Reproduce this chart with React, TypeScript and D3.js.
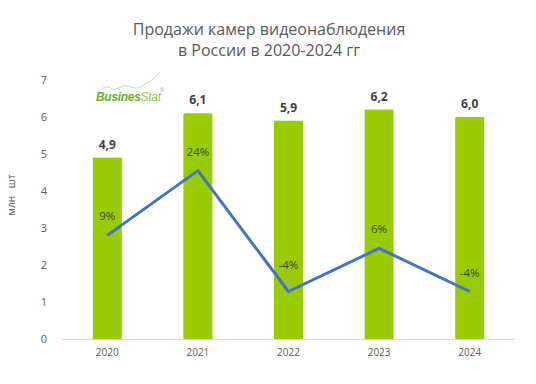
import React, { useEffect, useRef } from "react";
import * as d3 from "d3";

const years = ["2020", "2021", "2022", "2023", "2024"];
const sales = [4.9, 6.1, 5.9, 6.2, 6.0];
const growth = [0.09, 0.24, -0.04, 0.06, -0.04];
const yTicks = [0, 1, 2, 3, 4, 5, 6, 7];

const W = 536;
const H = 384;
const font = "'Open Sans', 'Noto Sans', sans-serif";

export default function App() {
  const svgRef = useRef<SVGSVGElement>(null);

  useEffect(() => {
    const svg = d3.select(svgRef.current);
    svg.selectAll("*").remove();

    const left = 62, right = 515, top = 80, bottom = 339;

    const x = d3.scaleBand().domain(years).range([left, right]).paddingInner(0.68).paddingOuter(0.34);
    const y = d3.scaleLinear().domain([0, 7]).range([bottom, top]);
    const y2 = d3.scaleLinear().domain([-0.15, 0.45]).range([bottom, top]);
    const cx = (d: string) => (x(d) as number) + x.bandwidth() / 2;

    // title
    const title = svg.append("text")
      .attr("x", 269).attr("text-anchor", "middle")
      .attr("font-family", font).attr("font-size", 16).attr("fill", "#595959");
    title.append("tspan").attr("x", 269).attr("y", 35).text("Продажи камер видеонаблюдения");
    title.append("tspan").attr("x", 269).attr("y", 56).text("в России в 2020-2024 гг");

    // y axis (no line, just labels)
    const yAxis = svg.append("g")
      .attr("transform", `translate(${left - 14},0)`)
      .call(d3.axisLeft(y).tickValues(yTicks).tickSize(0).tickPadding(0).tickFormat(d3.format("d")));
    yAxis.select(".domain").remove();
    yAxis.selectAll("text")
      .attr("font-family", font).attr("font-size", 11).attr("fill", "#595959")
      .attr("text-anchor", "middle").attr("dx", -4);

    svg.append("text")
      .attr("transform", `translate(15,${195}) rotate(-90)`)
      .attr("text-anchor", "middle")
      .attr("font-family", font).attr("font-size", 10).attr("fill", "#595959")
      .attr("xml:space", "preserve")
      .text("млн   шт");

    // bars
    svg.selectAll(".bar").data(sales).join("rect")
      .attr("class", "bar")
      .attr("x", (d, i) => x(years[i]) as number)
      .attr("width", x.bandwidth())
      .attr("y", d => y(d))
      .attr("height", d => bottom - y(d))
      .attr("fill", "#99CC00");

    svg.selectAll(".barlabel").data(sales).join("text")
      .attr("class", "barlabel")
      .attr("x", (d, i) => cx(years[i]))
      .attr("y", d => y(d) - 9)
      .attr("text-anchor", "middle")
      .attr("font-family", font).attr("font-size", 12).attr("font-weight", "bold")
      .attr("fill", "#404040")
      .text(d => d3.format(".1f")(d).replace(".", ","));

    // x axis
    const xAxis = svg.append("g")
      .attr("transform", `translate(0,${bottom})`)
      .call(d3.axisBottom(x).tickSize(0).tickPadding(10));
    xAxis.select(".domain").attr("stroke", "#D9D9D9").attr("d", `M${left},0.5H${right}`);
    xAxis.selectAll("text")
      .attr("font-family", font).attr("font-size", 10).attr("fill", "#595959");

    // growth line
    const ln = d3.line<number>()
      .x((d, i) => cx(years[i]))
      .y(d => y2(d));
    svg.append("path")
      .datum(growth)
      .attr("d", ln)
      .attr("fill", "none")
      .attr("stroke", "#4472C4")
      .attr("stroke-width", 3)
      .attr("stroke-linejoin", "round");

    const lift = [15, 15, 23, 15, 15];
    // leader line for 2022 label
    svg.append("line")
      .attr("x1", cx(years[2])).attr("x2", cx(years[2]))
      .attr("y1", y2(growth[2]) - 14).attr("y2", y2(growth[2]) - 2)
      .attr("stroke", "#A6A6A6").attr("stroke-width", 0.8);

    svg.selectAll(".glabel").data(growth).join("text")
      .attr("class", "glabel")
      .attr("x", (d, i) => cx(years[i]))
      .attr("y", (d, i) => y2(d) - lift[i])
      .attr("text-anchor", "middle")
      .attr("font-family", font).attr("font-size", 11.5)
      .attr("fill", "#404040")
      .text(d => `${Math.round(d * 100)}%`);

    // logo
    const logo = svg.append("g");
    logo.append("path")
      .attr("d", "M98,92 C104,86 108,86 112,89 C117,92 120,85 126,86 C132,87 136,90 142,86 C148,82 154,80 160,72")
      .attr("fill", "none").attr("stroke", "#B5D88A").attr("stroke-width", 0.8);
    const lt = logo.append("text")
      .attr("x", 96).attr("y", 101)
      .attr("font-family", "'Liberation Sans', Arial, sans-serif")
      .attr("font-size", 12).attr("font-style", "italic").attr("font-weight", "bold")
      .attr("letter-spacing", -0.3);
    lt.append("tspan").attr("fill", "#6AAE2A").text("Busines");
    lt.append("tspan").attr("fill", "#8CC63F").attr("font-weight", "normal").text("Stat");
    logo.append("text")
      .attr("x", 160).attr("y", 92)
      .attr("font-family", font).attr("font-size", 5).attr("fill", "#8CC63F")
      .text("®");
  }, []);

  return (
    <svg ref={svgRef} width={W} height={H} style={{ display: "block", position: "absolute", left: 0, top: 0, background: "#fff" }} />
  );
}
